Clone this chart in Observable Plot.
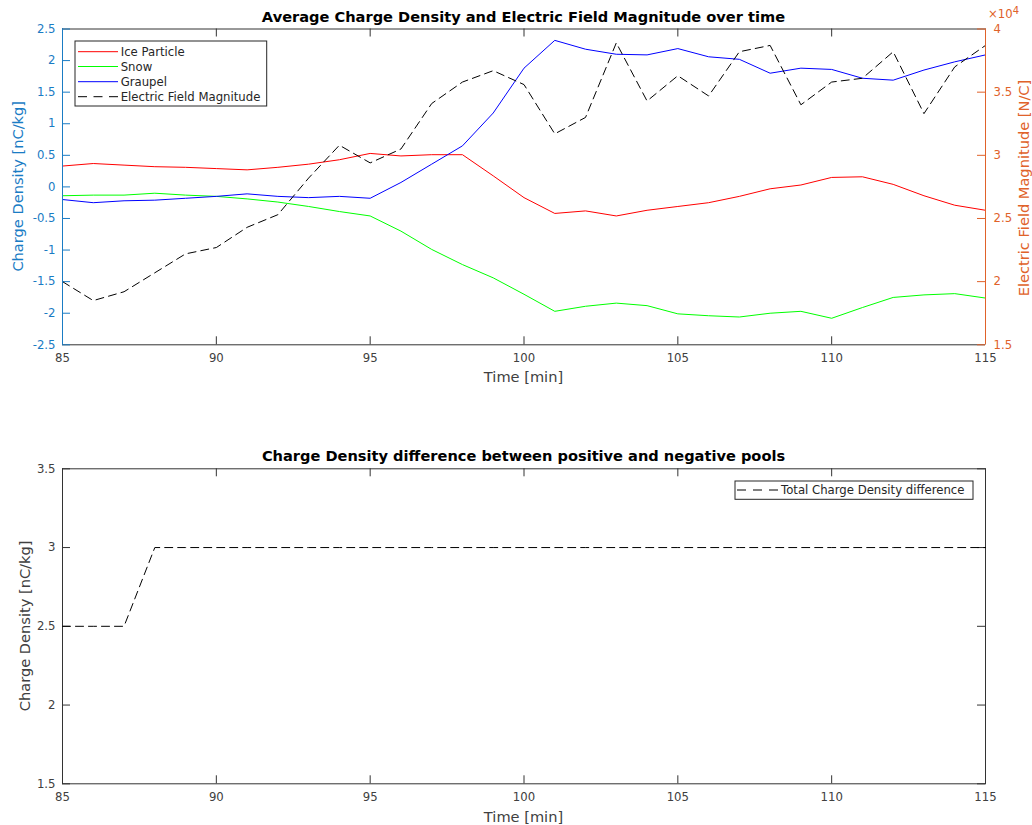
<!DOCTYPE html>
<html>
<head>
<meta charset="utf-8">
<script src="https://cdn.jsdelivr.net/npm/d3@7"></script>
<script src="https://cdn.jsdelivr.net/npm/@observablehq/plot@0.6"></script>
<style>
  html, body { margin: 0; padding: 0; background: #fff; }
  #wrap { position: relative; width: 1032px; height: 825px; overflow: hidden; background: #fff; font-family: "DejaVu Sans", sans-serif; }
  #wrap > .layer { position: absolute; left: 0; }
</style>
</head>
<body>
<div id="wrap"></div>
<script>
// ---------------- data ----------------
const time = [85, 86, 87, 88, 89, 90, 91, 92, 93, 94, 95, 96, 97, 98, 99, 100,
              101, 102, 103, 104, 105, 106, 107, 108, 109, 110, 111, 112, 113, 114, 115];
const iceParticle = [0.33, 0.37, 0.345, 0.32, 0.31, 0.29, 0.27, 0.31, 0.36, 0.43, 0.53, 0.49, 0.51, 0.51, 0.175, -0.17,
                     -0.42, -0.38, -0.46, -0.37, -0.31, -0.25, -0.15, -0.03, 0.03, 0.15, 0.16, 0.04, -0.14, -0.29, -0.37];
const snow = [-0.14, -0.13, -0.13, -0.10, -0.13, -0.15, -0.19, -0.24, -0.31, -0.39, -0.46, -0.70, -0.99, -1.23, -1.44, -1.70,
              -1.97, -1.89, -1.84, -1.88, -2.01, -2.04, -2.06, -2.00, -1.97, -2.08, -1.91, -1.75, -1.71, -1.69, -1.76];
const graupel = [-0.20, -0.25, -0.22, -0.21, -0.18, -0.15, -0.11, -0.15, -0.17, -0.15, -0.18, 0.07, 0.36, 0.65, 1.17, 1.88,
                 2.32, 2.18, 2.10, 2.09, 2.19, 2.06, 2.02, 1.80, 1.88, 1.86, 1.72, 1.69, 1.85, 1.98, 2.09];
// Electric field magnitude, in units of 10^4 N/C
const eField = [2.00, 1.85, 1.92, 2.07, 2.22, 2.27, 2.43, 2.53, 2.82, 3.08, 2.94, 3.05, 3.41, 3.58, 3.67, 3.56,
                3.17, 3.30, 3.89, 3.43, 3.63, 3.47, 3.82, 3.87, 3.40, 3.58, 3.61, 3.82, 3.33, 3.70, 3.87];
const chargeDiff = [2.5, 2.5, 2.5, 3, 3, 3, 3, 3, 3, 3, 3, 3, 3, 3, 3, 3,
                    3, 3, 3, 3, 3, 3, 3, 3, 3, 3, 3, 3, 3, 3, 3];

const xTicks = [85, 90, 95, 100, 105, 110, 115];
const leftTicks = [-2.5, -2, -1.5, -1, -0.5, 0, 0.5, 1, 1.5, 2, 2.5];
const rightTicks = [1.5, 2, 2.5, 3, 3.5, 4];
const bottomTicks = [1.5, 2, 2.5, 3, 3.5];

const seriesNames = ["Ice Particle", "Snow", "Graupel", "Electric Field Magnitude"];
const seriesColors = ["#ff0000", "#00ff00", "#0000ff", "#000000"];
const diffName = "Total Charge Density difference";

const title1 = "Average Charge Density and Electric Field Magnitude over time";
const title2 = "Charge Density difference between positive and negative pools";
const xLabel = "Time [min]";
const yLabelLeft = "Charge Density [nC/kg]";
const yLabelRight = "Electric Field Magnitude [N/C]";

// ---------------- style ----------------
const BLUE = "#1a7cc4";
const ORANGE = "#e0622a";
const AX = "#333333";
const TXT = "#404040";
const FONT = '"DejaVu Sans", sans-serif';
const TICKFS = 11.7;
const LABFS = 14.6;
const W = 1032, ML = 62, MR = 47, TK = 8;
const plotW = W - ML - MR;

const yLdom = [-2.5, 2.5], yRdom = [1.5, 4];
const toL = v => yLdom[0] + (v - yRdom[0]) * (yLdom[1] - yLdom[0]) / (yRdom[1] - yRdom[0]);
const fromL = v => yRdom[0] + (v - yLdom[0]) * (yRdom[1] - yRdom[0]) / (yLdom[1] - yLdom[0]);
const fmt = v => String(Math.round(v * 100) / 100);

const rows = time.map((t, i) => ({t, ice: iceParticle[i], snow: snow[i], graupel: graupel[i], ef: eField[i], diff: chargeDiff[i]}));

const wrap = document.getElementById("wrap");

// ---------------- top chart ----------------
const topH = 400, topMT = 28.5, topMB = 400 - 344.3;
const plotH1 = topH - topMT - topMB;
const topPlot = Plot.plot({
  width: W, height: topH,
  marginLeft: ML, marginRight: MR, marginTop: topMT, marginBottom: topMB,
  style: {fontFamily: FONT, fontSize: TICKFS + "px", background: "transparent", overflow: "visible"},
  x: {domain: [85, 115]},
  y: {domain: yLdom},
  marks: [
    Plot.ruleY([yLdom[1]], {stroke: AX, strokeWidth: 1}),
    Plot.ruleY([yLdom[0]], {stroke: AX, strokeWidth: 1}),
    Plot.tickX(xTicks, {x: d => d, stroke: AX, insetTop: plotH1 - TK}),
    Plot.tickX(xTicks, {x: d => d, stroke: AX, insetBottom: plotH1 - TK}),
    Plot.tickY(leftTicks, {y: d => d, stroke: BLUE, insetRight: plotW - TK}),
    Plot.tickY(rightTicks, {y: d => toL(d), stroke: ORANGE, insetLeft: plotW - TK}),
    Plot.line(rows, {x: "t", y: "ice", stroke: seriesColors[0], strokeWidth: 1}),
    Plot.line(rows, {x: "t", y: "snow", stroke: seriesColors[1], strokeWidth: 1}),
    Plot.line(rows, {x: "t", y: "graupel", stroke: seriesColors[2], strokeWidth: 1}),
    Plot.line(rows, {x: "t", y: d => toL(d.ef), stroke: seriesColors[3], strokeWidth: 1, strokeDasharray: "8,5"}),
    Plot.ruleX([85], {stroke: BLUE, strokeWidth: 1}),
    Plot.ruleX([115], {stroke: ORANGE, strokeWidth: 1}),
    Plot.axisX({ticks: xTicks, tickSize: 0, tickPadding: 9, tickFormat: d => String(d), label: null, color: TXT}),
    Plot.axisY({ticks: leftTicks, tickSize: 0, tickPadding: 7, tickFormat: d => String(d), label: null, color: BLUE}),
    Plot.axisY({anchor: "right", ticks: rightTicks.map(toL), tickSize: 0, tickPadding: 8, tickFormat: d => fmt(fromL(d)), label: null, color: ORANGE})
  ]
});
topPlot.classList.add("layer");
topPlot.style.top = "0px";
wrap.appendChild(topPlot);

// ---------------- bottom chart ----------------
const botTop = 400, botH = 425, botMT = 468.3 - 400, botMB = 825 - 783.3;
const plotH2 = botH - botMT - botMB;
const botPlot = Plot.plot({
  width: W, height: botH,
  marginLeft: ML, marginRight: MR, marginTop: botMT, marginBottom: botMB,
  style: {fontFamily: FONT, fontSize: TICKFS + "px", background: "transparent", overflow: "visible"},
  x: {domain: [85, 115]},
  y: {domain: [1.5, 3.5]},
  marks: [
    Plot.frame({stroke: AX, strokeWidth: 1}),
    Plot.tickX(xTicks, {x: d => d, stroke: AX, insetTop: plotH2 - TK}),
    Plot.tickX(xTicks, {x: d => d, stroke: AX, insetBottom: plotH2 - TK}),
    Plot.tickY(bottomTicks, {y: d => d, stroke: AX, insetRight: plotW - TK}),
    Plot.tickY(bottomTicks, {y: d => d, stroke: AX, insetLeft: plotW - TK}),
    Plot.line(rows, {x: "t", y: "diff", stroke: "#000", strokeWidth: 1, strokeDasharray: "8,5"}),
    Plot.axisX({ticks: xTicks, tickSize: 0, tickPadding: 9, tickFormat: d => String(d), label: null, color: TXT}),
    Plot.axisY({ticks: bottomTicks, tickSize: 0, tickPadding: 7, tickFormat: d => String(d), label: null, color: TXT})
  ]
});
botPlot.classList.add("layer");
botPlot.style.top = botTop + "px";
wrap.appendChild(botPlot);

// ---------------- overlay: titles, labels, legends ----------------
const ov = d3.select(wrap).append("svg")
  .attr("class", "layer")
  .style("top", "0px")
  .attr("width", W).attr("height", 825)
  .style("pointer-events", "none")
  .style("font-family", FONT);

const cx = ML + plotW / 2;
function txt(x, y, s, opts = {}) {
  const t = ov.append("text").attr("x", x).attr("y", y).text(s)
    .attr("font-size", opts.size || LABFS)
    .attr("fill", opts.fill || TXT)
    .attr("text-anchor", opts.anchor || "middle");
  if (opts.bold) t.attr("font-weight", "bold");
  if (opts.rotate) t.attr("transform", `rotate(-90 ${x} ${y})`);
  if (opts.dy) t.attr("dy", opts.dy);
  return t;
}
txt(cx, 21.7, title1, {bold: true, fill: "#000"});
txt(cx, 461, title2, {bold: true, fill: "#000"});
txt(cx, 381.5, xLabel);
txt(cx, 821.5, xLabel);
txt(23, 186.3, yLabelLeft, {rotate: true, fill: BLUE});
txt(1029, 188, yLabelRight, {rotate: true, fill: ORANGE});
txt(29.8, 625.9, yLabelLeft, {rotate: true});
// x10^4 multiplier
const mult = ov.append("text").attr("x", 988).attr("y", 17.5).attr("fill", ORANGE).attr("font-size", TICKFS);
mult.append("tspan").text("×10");
mult.append("tspan").attr("dy", -4).attr("font-size", 10).text("4");

// legend 1
const lg1 = {x: 75, y: 41, w: 191.7, h: 65};
ov.append("rect").attr("x", lg1.x).attr("y", lg1.y).attr("width", lg1.w).attr("height", lg1.h)
  .attr("fill", "#fff").attr("stroke", "#262626").attr("stroke-width", 1);
const rowY = [51.7, 66.5, 81.7, 96.7];
seriesNames.forEach((name, i) => {
  ov.append("line").attr("x1", 78).attr("x2", 118).attr("y1", rowY[i]).attr("y2", rowY[i])
    .attr("stroke", seriesColors[i]).attr("stroke-width", 1)
    .attr("stroke-dasharray", i === 3 ? "9,6.5" : null);
  txt(120.7, rowY[i], name, {anchor: "start", size: TICKFS, fill: "#262626", dy: "0.36em"});
});

// legend 2
ov.append("rect").attr("x", 735).attr("y", 481).attr("width", 238).attr("height", 18.3)
  .attr("fill", "#fff").attr("stroke", "#262626").attr("stroke-width", 1);
ov.append("line").attr("x1", 737).attr("x2", 779).attr("y1", 490).attr("y2", 490)
  .attr("stroke", "#000").attr("stroke-width", 1).attr("stroke-dasharray", "9,7");
txt(781, 490, diffName, {anchor: "start", size: TICKFS, fill: "#262626", dy: "0.36em"});
</script>
</body>
</html>
